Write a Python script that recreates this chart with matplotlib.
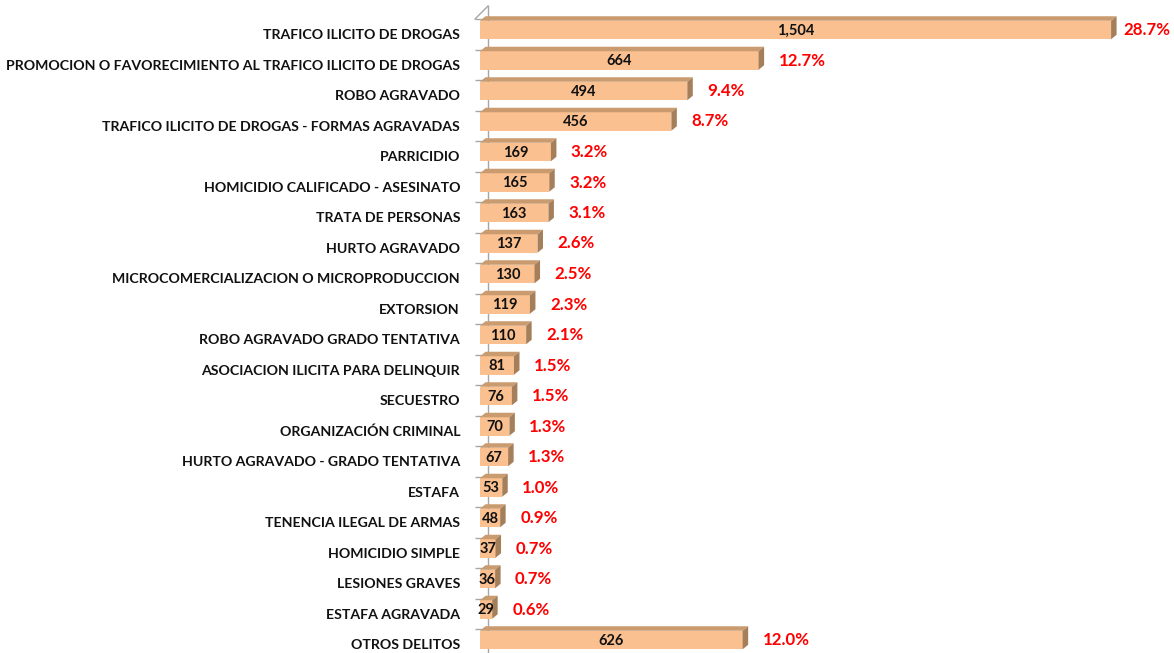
import matplotlib
matplotlib.use("Agg")
import matplotlib.pyplot as plt
from matplotlib.patches import Polygon

categories = [
    "TRAFICO ILICITO DE DROGAS",
    "PROMOCION O FAVORECIMIENTO AL TRAFICO ILICITO DE DROGAS",
    "ROBO AGRAVADO",
    "TRAFICO ILICITO DE DROGAS - FORMAS AGRAVADAS",
    "PARRICIDIO",
    "HOMICIDIO CALIFICADO - ASESINATO",
    "TRATA DE PERSONAS",
    "HURTO AGRAVADO",
    "MICROCOMERCIALIZACION O MICROPRODUCCION",
    "EXTORSION",
    "ROBO AGRAVADO GRADO TENTATIVA",
    "ASOCIACION ILICITA PARA DELINQUIR",
    "SECUESTRO",
    "ORGANIZACIÓN CRIMINAL",
    "HURTO AGRAVADO - GRADO TENTATIVA",
    "ESTAFA",
    "TENENCIA ILEGAL DE ARMAS",
    "HOMICIDIO SIMPLE",
    "LESIONES GRAVES",
    "ESTAFA AGRAVADA",
    "OTROS DELITOS",
]
values = [1504, 664, 494, 456, 169, 165, 163, 137, 130, 119, 110,
          81, 76, 70, 67, 53, 48, 37, 36, 29, 626]
pct_labels = ["28.7%", "12.7%", "9.4%", "8.7%", "3.2%", "3.2%", "3.1%",
              "2.6%", "2.5%", "2.3%", "2.1%", "1.5%", "1.5%", "1.3%",
              "1.3%", "1.0%", "0.9%", "0.7%", "0.7%", "0.6%", "12.0%"]

FONT = ["Lato", "DejaVu Sans"]
plt.rcParams["font.family"] = FONT

W, H, DPI = 1174, 653, 100
fig = plt.figure(figsize=(W / DPI, H / DPI), dpi=DPI)
fig.patch.set_facecolor("white")

PXU = 0.4196          # pixels per unit of value
X0 = 480              # pixel of value zero
ROW0, ROWH = 30.0, 30.5   # pixel of first row centre, row spacing
ax = fig.add_axes([X0 / W, 0, 1 - X0 / W, 1])
ax.set_xlim(0, (W - X0) / PXU)
ax.set_ylim((H - ROW0) / ROWH, -ROW0 / ROWH)
ax.set_facecolor("none")

FRONT = "#FAC090"
TOP = "#C99B6E"
SIDE = "#A57E5A"
GREY = "#A6A6A6"

bh = 18.5 / ROWH
dx = 5.5 / PXU
dy = 4.5 / ROWH
n = len(values)
ypos = list(range(n))

ax.barh(ypos, values, height=bh, color=FRONT, edgecolor="none", zorder=3)
for y, v in zip(ypos, values):
    top = y - bh / 2
    ax.add_patch(Polygon([(0, top), (v, top), (v + dx, top - dy), (dx, top - dy)],
                         closed=True, facecolor=TOP, edgecolor="none", zorder=3))
    ax.add_patch(Polygon([(v, top), (v + dx, top - dy), (v + dx, top + bh - dy), (v, top + bh)],
                         closed=True, facecolor=SIDE, edgecolor="none", zorder=3))

# axis styling
for s in ["top", "right", "bottom"]:
    ax.spines[s].set_visible(False)
ax.spines["left"].set_position(("outward", -8 * 72 / DPI))
ax.spines["left"].set_color(GREY)
ax.spines["left"].set_linewidth(1.0)
ax.spines["left"].set_bounds((H - ROW0) / ROWH, -24 / ROWH)
ax.set_xticks([])
tick_off = 11 / ROWH
ax.set_yticks([y - tick_off for y in ypos])
ax.set_yticklabels([])
ax.tick_params(axis="y", length=13 * 72 / DPI, color=GREY, width=1.0, direction="out")
ax.zorder = 2
# top diagonal of the axis wall
ax.plot([-5 / PXU, 8 / PXU], [-tick_off, -24 / ROWH], color=GREY, lw=1.0, clip_on=False, zorder=1)

fig.canvas.draw()
renderer = fig.canvas.get_renderer()

def fit(txt, target_px, base=10, **kw):
    t = fig.text(0, 0, txt, fontsize=base, **kw)
    w = t.get_window_extent(renderer).width
    t.remove()
    return base * target_px / w

longest = max(categories, key=len)
fs_cat = fit(longest, 453, weight="bold")
fs_val = fit("1,504", 37.5, weight="bold")
fs_pct = fit("28.7%", 47, weight="bold")

label_off = 0.18
for y, c in zip(ypos, categories):
    ax.annotate(c, xy=(0, y + label_off), xycoords=("axes fraction", "data"),
                xytext=(-20 * 72 / DPI, 0), textcoords="offset points",
                ha="right", va="center", fontsize=fs_cat, fontweight="bold",
                color="#111111", annotation_clip=False)

for y, v in zip(ypos, values):
    ax.text(v / 2, y + 0.03, f"{v:,}", ha="center", va="center", fontsize=fs_val,
            fontweight="bold", color="#111111", zorder=5)

for y, v, p in zip(ypos, values, pct_labels):
    t = ax.annotate(p, xy=(v, y), xycoords="data", xytext=(20 * 72 / DPI, 0),
                    textcoords="offset points", ha="left", va="center",
                    fontsize=fs_pct, fontweight="bold", color="#FF0000",
                    annotation_clip=False)
    ext = t.get_window_extent(renderer)
    if ext.x1 > W - 4:
        gap = 20 - (ext.x1 - (W - 4))
        t.set_position((gap * 72 / DPI, 0))

fig.savefig("out.png", dpi=DPI, facecolor="white")
